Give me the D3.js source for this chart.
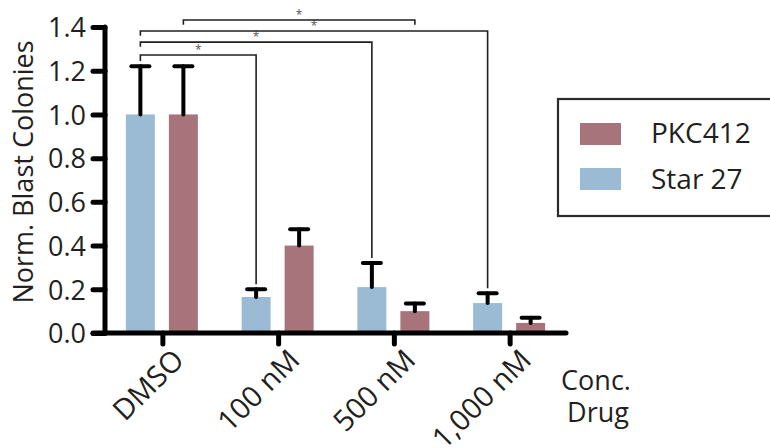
<html>
<head>
<script src="https://cdn.jsdelivr.net/npm/d3@7"></script>
</head>
<body style="margin:0; padding:0; background:#fff;">
<script>
// data
var cats = ["DMSO", "100 nM", "500 nM", "1,000 nM"];
var series = ["Star 27", "PKC412"];
var star27 = [1.0, 0.165, 0.21, 0.137];
var star27Err = [0.22, 0.035, 0.11, 0.045];
var pkc412 = [1.0, 0.40, 0.10, 0.046];
var pkc412Err = [0.22, 0.075, 0.035, 0.024];
var yTicks = [0, 0.2, 0.4, 0.6, 0.8, 1.0, 1.2, 1.4];
var legendOrder = ["PKC412", "Star 27"];

// significance brackets: from/to bar, level of the bar
var sig = [
	{a: ["DMSO", "Star 27"], b: ["100 nM", "Star 27"], level: 1.272, leftDrop: 1.245},
	{a: ["DMSO", "Star 27"], b: ["500 nM", "Star 27"], level: 1.331, leftDrop: 1.31},
	{a: ["DMSO", "Star 27"], b: ["1,000 nM", "Star 27"], level: 1.382, leftDrop: 1.36},
	{a: ["DMSO", "PKC412"], b: ["500 nM", "PKC412"], level: 1.432, leftDrop: 1.41, rightDrop: 1.41}
];

var colors = {"Star 27": "#9bbbd4", "PKC412": "#a8747c"};
var ink = "#231f20";
var font = "'Open Sans', sans-serif";

var width = 770, height = 448;

var svg = d3.select("body").append("svg")
	.attr("width", width)
	.attr("height", height)
	.style("font-family", font);

var x = d3.scaleBand().domain(cats).range([105, 568]);
var xs = d3.scaleBand().domain(series).range([-37, 35]).paddingInner(0.326);
var y = d3.scaleLinear().domain([0, 1.4]).range([333, 27]);

var rows = [];
cats.forEach(function(c, i) {
	rows.push({cat: c, s: "Star 27", v: star27[i], e: star27Err[i]});
	rows.push({cat: c, s: "PKC412", v: pkc412[i], e: pkc412Err[i]});
});
function cx(cat, s) { return x(cat) + x.bandwidth() / 2 + xs(s) + xs.bandwidth() / 2; }
function find(cat, s) { return rows.filter(function(r) { return r.cat == cat && r.s == s; })[0]; }

// bars
svg.append("g").selectAll("rect").data(rows).enter()
	.append("rect")
		.attr("x", function(d) { return x(d.cat) + x.bandwidth() / 2 + xs(d.s); })
		.attr("width", xs.bandwidth())
		.attr("y", function(d) { return y(d.v); })
		.attr("height", function(d) { return y(0) - y(d.v); })
		.style("fill", function(d) { return colors[d.s]; });

// error bars (upper only)
var eb = svg.append("g").attr("stroke", "#000").attr("stroke-width", 4).attr("stroke-linecap", "round");
rows.forEach(function(d) {
	var c = cx(d.cat, d.s);
	eb.append("line").attr("x1", c).attr("x2", c).attr("y1", y(d.v)).attr("y2", y(d.v + d.e));
	eb.append("line").attr("x1", c - 9).attr("x2", c + 9).attr("y1", y(d.v + d.e)).attr("y2", y(d.v + d.e));
});

// brackets
var br = svg.append("g");
sig.forEach(function(s) {
	var x1 = cx(s.a[0], s.a[1]), x2 = cx(s.b[0], s.b[1]);
	var yl = y(s.level);
	var rTop = s.rightDrop != null ? y(s.rightDrop) : y(find(s.b[0], s.b[1]).v + find(s.b[0], s.b[1]).e) - 5;
	br.append("path")
		.attr("d", "M" + x1 + "," + y(s.leftDrop) + "V" + yl + "H" + x2 + "V" + rTop)
		.attr("fill", "none").attr("stroke", ink).attr("stroke-width", 1.6);
	br.append("text")
		.attr("x", (x1 + x2) / 2).attr("y", yl - 1)
		.attr("text-anchor", "middle")
		.style("font-size", "12px").style("fill", "#555")
		.text("*");
});

// axes
var yAxis = svg.append("g").attr("transform", "translate(105,0)")
	.call(d3.axisLeft(y).tickValues(yTicks).tickFormat(d3.format(".1f")).tickSize(12).tickPadding(7));
var xAxis = svg.append("g").attr("transform", "translate(0,333)")
	.call(d3.axisBottom(x).tickSize(11).tickPadding(6));

[yAxis, xAxis].forEach(function(g) {
	g.select(".domain").remove();
	g.selectAll(".tick line").attr("stroke", "#000").attr("stroke-width", 5).attr("stroke-linecap", "round");
	g.selectAll("text").style("font-family", font).style("font-size", "27px").style("fill", ink);
});
svg.append("line").attr("x1", 105).attr("x2", 105).attr("y1", y(1.4)).attr("y2", y(0))
	.attr("stroke", "#000").attr("stroke-width", 5).attr("stroke-linecap", "round");
svg.append("line").attr("x1", 93).attr("x2", 566).attr("y1", y(0)).attr("y2", y(0))
	.attr("stroke", "#000").attr("stroke-width", 5).attr("stroke-linecap", "round");

yAxis.selectAll("text").attr("dy", "0.36em");
xAxis.selectAll(".tick text")
	.style("font-size", "29px")
	.attr("text-anchor", "end")
	.attr("transform", "translate(8,14) rotate(-45)")
	.attr("y", 0).attr("x", 0).attr("dy", "0.72em");

// y label
svg.append("text")
	.attr("transform", "translate(33,172) rotate(-90)")
	.attr("text-anchor", "middle")
	.style("font-size", "27px").style("fill", ink)
	.text("Norm. Blast Colonies");

// x label
svg.append("text").attr("x", 596).attr("y", 390).attr("text-anchor", "middle")
	.style("font-size", "27px").style("fill", ink).text("Conc.");
svg.append("text").attr("x", 598).attr("y", 422).attr("text-anchor", "middle")
	.style("font-size", "27px").style("fill", ink).text("Drug");

// legend
var lg = svg.append("g");
lg.append("rect").attr("x", 558).attr("y", 99).attr("width", 230).attr("height", 117)
	.attr("fill", "none").attr("stroke", "#2b2b2b").attr("stroke-width", 2.2);
legendOrder.forEach(function(s, i) {
	lg.append("rect").attr("x", 580).attr("y", 123 + i * 45).attr("width", 41).attr("height", 22)
		.style("fill", colors[s]);
	lg.append("text").attr("x", 651).attr("y", 143 + i * 46)
		.style("font-size", "28px").style("fill", ink).text(s);
});
</script>
</body>
</html>
